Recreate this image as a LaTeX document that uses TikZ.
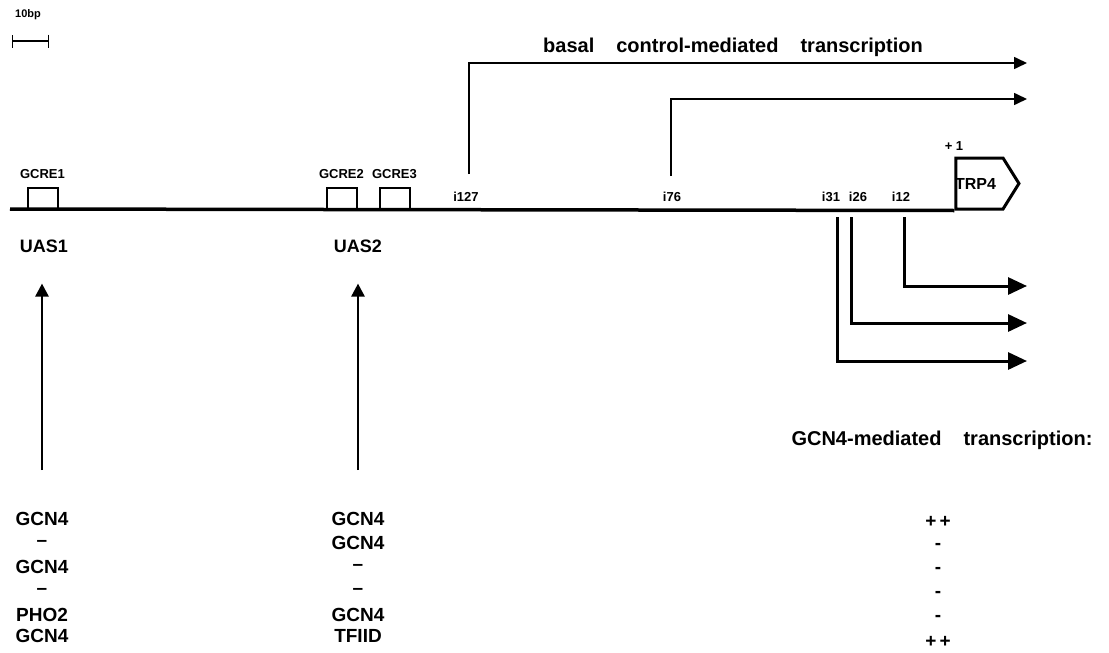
\documentclass[tikz,border=0pt]{standalone}
\usepackage{fontspec}
\setmainfont{Liberation Sans}
\usetikzlibrary{arrows.meta,positioning,shapes.symbols}

\begin{document}
\begin{tikzpicture}[x=1pt, y=-1pt,
  big/.style={font=\fontsize{19}{21}\selectfont\bfseries, inner sep=0pt},
  site/.style={font=\fontsize{13}{15}\selectfont\bfseries, inner sep=0pt},
  gcre/.style={draw, line width=2pt, minimum width=30pt, minimum height=21pt, inner sep=0pt},
  gene/.style={draw, line width=3pt, signal, signal to=east, signal pointer angle=116,
               minimum width=63pt, minimum height=51pt, inner sep=0pt, font=\fontsize{16}{18}\selectfont\bfseries},
  basal/.style={-{Triangle[length=13pt, width=12pt]}, line width=1.6pt},
  gcn/.style={-{Triangle[length=19pt, width=17pt]}, line width=3pt},
  bind/.style={-{Triangle[length=13pt, width=13pt]}, line width=2.6pt},
]
  \useasboundingbox (0,0) rectangle (1109,653);

  % scale bar
  \node[site, font=\fontsize{11}{13}\selectfont\bfseries] (bp) at (28,15) {10bp};
  \coordinate (sbl) at (12,41);
  \coordinate (sbr) at (49,41);
  \draw[{Bar[width=13pt]}-{Bar[width=13pt]}, line width=1.4pt] (sbl) -- (sbr);

  % promoter and gene
  \node[gene] (trp) at (979.5,183.5) {\hspace*{-8pt}TRP4};
  \node[site] (plus) at (954,146) {+ 1};
  \coordinate (dna) at (10,209);
  \draw[line width=3.5pt] (dna) -- (trp.south west);

  % GCRE boxes
  \node[gcre] (g1) at (42.5,198.5) {};
  \node[gcre] (g2) at (341.5,198.5) {};
  \node[gcre] (g3) at (394.5,198.5) {};
  \node[site, above=8pt of g1] {GCRE1};
  \node[site, above=8pt of g2] {GCRE2};
  \node[site, above=8pt of g3] {GCRE3};
  \node[big, font=\fontsize{18}{20}\selectfont\bfseries] (uas1) at (44,246) {UAS1};
  \node[big, font=\fontsize{18}{20}\selectfont\bfseries] (uas2) at (358,246) {UAS2};

  % start sites
  \node[site] (s127) at (466,197) {i127};
  \node[site] (s76) at (672,197) {i76};
  \node[site] (s31) at (831,197) {i31};
  \node[site] (s26) at (858,197) {i26};
  \node[site] (s12) at (901,197) {i12};

  % basal transcripts
  \node[big, font=\fontsize{20}{22}\selectfont\bfseries] (basal) at (733,47)
    {basal\hspace{22pt}control-mediated\hspace{22pt}transcription};
  \coordinate (b127) at (469,174);
  \coordinate (e127) at (1027,63);
  \coordinate (b76) at (671,176);
  \coordinate (e76) at (1027,99);
  \draw[basal] (b127) |- (e127);
  \draw[basal] (b76) |- (e76);

  % GCN4 transcripts
  \coordinate (b31) at (837,217);
  \coordinate (e31) at (1027,361);
  \coordinate (b26) at (851,217);
  \coordinate (e26) at (1027,323);
  \coordinate (b12) at (904,217);
  \coordinate (e12) at (1027,286);
  \draw[gcn] (b31) |- (e31);
  \draw[gcn] (b26) |- (e26);
  \draw[gcn] (b12) |- (e12);
  \node[big, font=\fontsize{20}{22}\selectfont\bfseries] (gcnlab) at (942,440)
    {GCN4-mediated\hspace{22pt}transcription:};

  % binding factors
  \node[big] (a1) at (42,519) {GCN4};
  \node[big] (a2) at (42,543) {--};
  \node[big] (a3) at (42,567) {GCN4};
  \node[big] (a4) at (42,591) {--};
  \node[big] (a5) at (42,615) {PHO2};
  \node[big] (a6) at (42,636) {GCN4};
  \node[big] (c1) at (358,519) {GCN4};
  \node[big] (c2) at (358,543) {GCN4};
  \node[big] (c3) at (358,567) {--};
  \node[big] (c4) at (358,591) {--};
  \node[big] (c5) at (358,615) {GCN4};
  \node[big] (c6) at (358,636) {TFIID};
  \node[big] (r1) at (938,522) {+\,+};
  \node[big] (r2) at (938,546) {-};
  \node[big] (r3) at (938,570) {-};
  \node[big] (r4) at (938,594) {-};
  \node[big] (r5) at (938,618) {-};
  \node[big] (r6) at (938,642) {+\,+};

  \draw[bind, shorten <=42pt, shorten >=31pt] (a1) -- (uas1.south -| a1);
  \draw[bind, shorten <=42pt, shorten >=31pt] (c1) -- (uas2);
\end{tikzpicture}
\end{document}
